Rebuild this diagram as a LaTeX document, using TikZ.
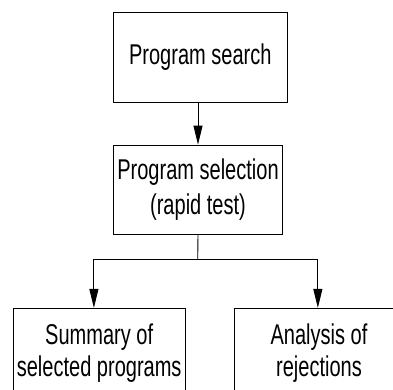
\documentclass[tikz,border=0pt]{standalone}
\usepackage{fontspec}
\setmainfont[FakeStretch=0.7]{Liberation Sans}
\usetikzlibrary{arrows.meta,calc}
\tikzset{
  box/.style={draw=black, line width=0.9pt, minimum height=89.3pt, inner sep=0pt, align=center},
  flow/.style={draw=black, line width=0.9pt},
  arr/.style={flow, -{Triangle[length=19pt,width=9pt]}},
  big/.style={font=\fontsize{28.6}{32}\selectfont},
  bigwide/.style={font=\fontsize{28.6}{35.3}\selectfont}
}
\begin{document}
\begin{tikzpicture}[x=1pt,y=-1pt]
\useasboundingbox (0,0) rectangle (393,389);
\clip (0,0) rectangle (393,389);
\node[box, big, minimum width=174pt] (search) at (200.3,57.3) {Program search};
\node[box, bigwide, minimum width=169.4pt] (select) at (198,189.7) {Program selection\\(rapid test)};
\node[box, big, minimum width=171.7pt] (summary) at (99.2,353) {Summary of\\selected programs};
\node[box, big, minimum width=170pt] (reject) at (319,353) {Analysis of\\rejections};
\draw[arr] (select.north |- search.south) -- (select.north);
\coordinate (junction) at (197.7,259.3);
\draw[flow] (select.south) -- (junction);
\draw[arr] (junction) -| ([xshift=81pt]summary.north west);
\draw[arr] (junction) -| ([xshift=84.3pt]reject.north west);
\end{tikzpicture}
\end{document}
